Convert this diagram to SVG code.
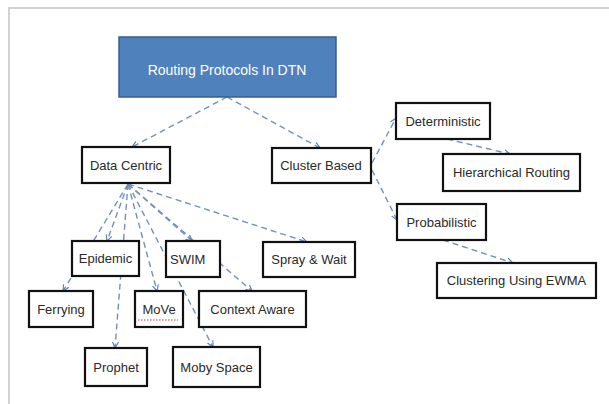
<svg xmlns="http://www.w3.org/2000/svg" width="609" height="404" viewBox="0 0 609 404">
<defs>
<marker id="arr" viewBox="0 0 8 8" refX="7" refY="4" markerWidth="7" markerHeight="7" markerUnits="userSpaceOnUse" orient="auto">
<path d="M0,0.5 L7,4 L0,7.5" fill="none" stroke="#5b7fb8" stroke-width="1.3"/>
</marker>
<style>
.frame{fill:none;stroke:#d2d2d2;stroke-width:2}
.node rect{fill:#ffffff;stroke:#111111;stroke-width:2.2}
.node text{font-family:"Liberation Sans","DejaVu Sans",sans-serif;font-size:13px;fill:#2a2a2a;text-anchor:middle;dominant-baseline:central}
#root rect{fill:#4f81bd;stroke:#385d8a;stroke-width:1.5}
#root text{fill:#ffffff;font-size:14px}
#swim text{text-anchor:start}
.conn line{stroke:#7590bd;stroke-width:1.4;stroke-dasharray:6 4;fill:none;marker-end:url(#arr)}
</style>
</defs>
<rect width="609" height="404" fill="#ffffff"/>
<path class="frame" d="M9,404 V8 H609"/>

<g class="conn">
<line x1="227" y1="97" x2="132" y2="147"/>
<line x1="227" y1="97" x2="320" y2="148"/>
<line x1="372" y1="163" x2="396" y2="118"/>
<line x1="372" y1="170" x2="397" y2="220"/>
<line x1="447" y1="139" x2="510" y2="154"/>
<line x1="443" y1="240" x2="513" y2="263"/>
<line x1="128" y1="184" x2="107" y2="241"/>
<line x1="128" y1="184" x2="192" y2="241"/>
<line x1="128" y1="184" x2="307" y2="242"/>
<line x1="128" y1="184" x2="63" y2="291"/>
<line x1="128" y1="184" x2="115" y2="348"/>
<line x1="128" y1="184" x2="157" y2="291"/>
<line x1="128" y1="184" x2="213" y2="347"/>
<line x1="128" y1="184" x2="252" y2="291"/>
</g>

<g id="root" class="node"><rect x="119" y="37" width="217" height="60"/><text x="227" y="70">Routing Protocols In DTN</text></g>
<g id="data-centric" class="node"><rect x="82" y="147" width="88" height="36"/><text x="126" y="165">Data Centric</text></g>
<g id="cluster-based" class="node"><rect x="272" y="148" width="99" height="35"/><text x="321" y="165.5">Cluster Based</text></g>
<g id="deterministic" class="node"><rect x="396" y="103" width="94" height="36"/><text x="443" y="121">Deterministic</text></g>
<g id="hierarchical" class="node"><rect x="443" y="154" width="137" height="37"/><text x="511.5" y="172.5">Hierarchical Routing</text></g>
<g id="probabilistic" class="node"><rect x="397" y="204" width="89" height="36"/><text x="441.5" y="222">Probabilistic</text></g>
<g id="clustering-ewma" class="node"><rect x="437" y="263" width="159" height="35"/><text x="516.5" y="280.5">Clustering Using EWMA</text></g>
<g id="epidemic" class="node"><rect x="72" y="241" width="67" height="35"/><text x="105.5" y="258.5">Epidemic</text></g>
<g id="swim" class="node"><rect x="166" y="241" width="54" height="36"/><text x="170" y="259">SWIM</text></g>
<g id="spray-wait" class="node"><rect x="263" y="242" width="92" height="35"/><text x="309" y="259.5">Spray &amp; Wait</text></g>
<g id="ferrying" class="node"><rect x="29" y="291" width="64" height="36"/><text x="61" y="309">Ferrying</text></g>
<g id="move" class="node"><rect x="135" y="291" width="48" height="36"/><text x="159" y="309">MoVe</text><line x1="138" y1="320" x2="178" y2="320" stroke="#d03030" stroke-width="1" stroke-dasharray="1.5 1.5"/></g>
<g id="context-aware" class="node"><rect x="199" y="291" width="107" height="36"/><text x="252.5" y="309">Context Aware</text></g>
<g id="prophet" class="node"><rect x="85" y="348" width="62" height="38"/><text x="116" y="367">Prophet</text></g>
<g id="moby-space" class="node"><rect x="173" y="347" width="87" height="40"/><text x="216.5" y="367">Moby Space</text></g>
</svg>
